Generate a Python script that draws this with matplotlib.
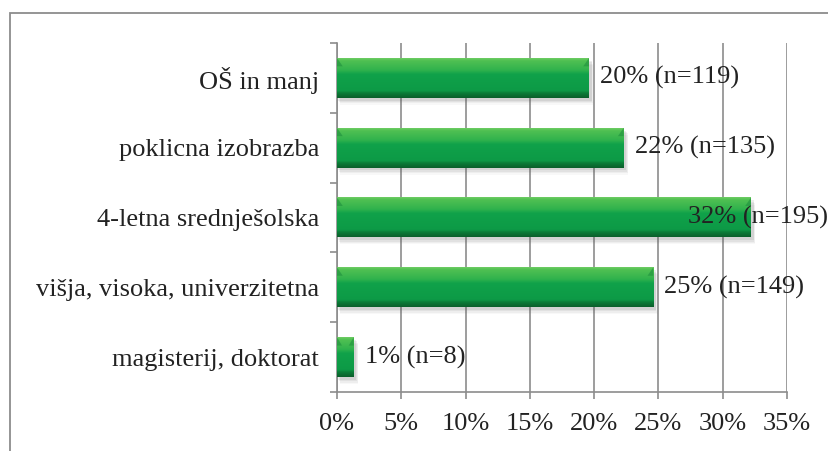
import numpy as np
import matplotlib.pyplot as plt
from matplotlib.colors import LinearSegmentedColormap
from matplotlib.patches import Rectangle, Polygon

plt.rcParams["font.family"] = ["Liberation Serif", "DejaVu Serif"]

# Data (top to bottom)
categories = ["OŠ in manj", "poklicna izobrazba", "4-letna srednješolska",
              "višja, visoka, univerzitetna", "magisterij, doktorat"]
counts = [119, 135, 195, 149, 8]
percent = [19.6, 22.3, 32.2, 24.6, 1.3]
labels = ["20% (n=119)", "22% (n=135)", "32% (n=195)", "25% (n=149)", "1% (n=8)"]
xticks = [0, 5, 10, 15, 20, 25, 30, 35]

fig = plt.figure(figsize=(8.29, 4.51), dpi=100)
ax = fig.add_axes([0.4065, 0.1308, 0.5428, 0.7739])

# outer chart border (continues past right / bottom edge)
fig.add_artist(Rectangle((10 / 829, -0.05), 1.2, 0.971 + 0.05, transform=fig.transFigure,
                         fill=False, edgecolor="#8c8c8c", linewidth=1.3))

grid_col = "#8c8c8c"
fs = 19
y = np.arange(len(categories))[::-1]
h = 0.57

# vertical gradient for the bars (top -> bottom)
green = LinearSegmentedColormap.from_list("g", [
    (0.0, "#6ccc62"), (0.06, "#4fc052"), (0.30, "#30b24d"), (0.40, "#10a24a"),
    (0.82, "#0d9a46"), (0.88, "#0b7d38"), (1.0, "#0a5f2b")])
grad = np.linspace(0, 1, 64).reshape(-1, 1)

for yi, v in zip(y, percent):
    # soft shadow
    for k, a in enumerate([0.10, 0.08, 0.06, 0.04]):
        ax.add_patch(Rectangle((0.1 + 0.05 * k, yi - h / 2 - 0.04 - 0.02 * k), v + 0.1,
                               h, facecolor="#555555", edgecolor="none", alpha=a, zorder=2))
    ax.imshow(grad, cmap=green, aspect="auto", extent=(0, v, yi - h / 2, yi + h / 2),
              zorder=3, interpolation="bilinear")
    # bevel on the bar ends
    bw = min(0.45, v * 0.3)
    ax.add_patch(Polygon([(0, yi + h / 2), (bw, yi + h / 2 - 0.12), (0, yi + h / 2 - 0.12)],
                         closed=True, facecolor="#1f8f3e", edgecolor="none", alpha=0.6, zorder=4))
    ax.add_patch(Polygon([(v, yi + h / 2), (v - bw, yi + h / 2 - 0.12), (v, yi + h / 2 - 0.12)],
                         closed=True, facecolor="#1f8f3e", edgecolor="none", alpha=0.6, zorder=4))

ax.set_xlim(0, 35)
ax.set_ylim(-0.5, len(categories) - 0.5)
ax.set_xticks(xticks)
ax.set_xticklabels([f"{t}%" for t in xticks], fontsize=fs)
ax.set_yticks(y)
ax.set_yticklabels(categories, fontsize=fs)
ax.set_yticks(np.arange(-0.5, len(categories), 1), minor=True)
ax.tick_params(axis="y", which="major", length=0, pad=13)
ax.tick_params(axis="y", which="minor", length=5, color=grid_col, width=1.2)
ax.tick_params(axis="x", length=5, color=grid_col, width=1.2, pad=10, colors="#222222")
ax.tick_params(axis="x", color=grid_col)
ax.tick_params(axis="y", labelcolor="#222222")
ax.grid(axis="x", color=grid_col, linewidth=1.2, zorder=1)
ax.set_axisbelow(True)
for s in ["top", "right"]:
    ax.spines[s].set_visible(False)
for s in ["left", "bottom"]:
    ax.spines[s].set_color(grid_col)
    ax.spines[s].set_linewidth(1.2)

# value labels; keep inside the chart area like Excel does
fig.canvas.draw()
renderer = fig.canvas.get_renderer()
fw = fig.bbox.width
for yi, v, lab in zip(y, percent, labels):
    t = ax.annotate(lab, (v, yi), xytext=(8, 0), textcoords="offset points",
                    ha="left", va="center", fontsize=fs, color="#222222", zorder=6,
                    annotation_clip=False)
    bb = t.get_window_extent(renderer)
    if bb.x1 > fw - 1:
        t.xyann = (8 - (bb.x1 - fw + 1) * 72 / fig.dpi, 0)

fig.savefig("out.png", dpi=100)
